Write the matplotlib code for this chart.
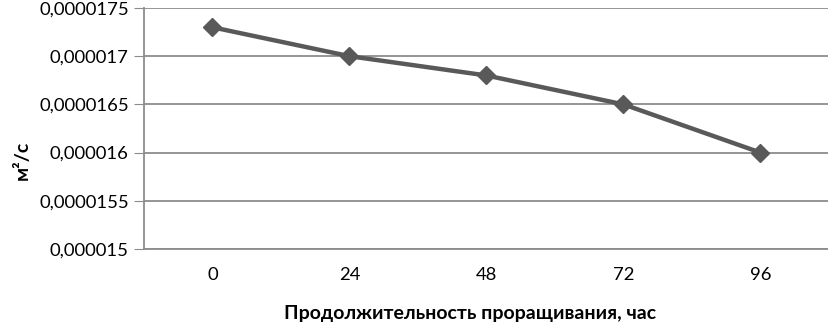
import matplotlib
matplotlib.use('Agg')
import matplotlib.pyplot as plt
from matplotlib.ticker import FuncFormatter

plt.rcParams['font.family'] = ['Lato', 'DejaVu Sans']

hours = ['0', '24', '48', '72', '96']
diff = [1.73e-5, 1.70e-5, 1.68e-5, 1.65e-5, 1.60e-5]
yticks = [0.000015, 0.0000155, 0.000016, 0.0000165, 0.000017, 0.0000175]

fig = plt.figure(figsize=(8.29, 3.23), dpi=100)
ax = fig.add_axes([144/829, 1-249/323, 685/829, 241/323])

x = list(range(len(hours)))
ax.plot(x, diff, color='#595959', lw=3.2, marker='D', ms=9, zorder=3)

ax.set_xlim(-0.5, len(hours)-0.5)
ax.set_ylim(yticks[0], yticks[-1])
ax.set_yticks(yticks)
ax.yaxis.set_major_formatter(FuncFormatter(lambda v, p: ('%.7f' % v).rstrip('0').replace('.', ',')))
ax.set_xticks(x)
ax.set_xticklabels(hours)
ax.grid(axis='y', color='#8c8c8c', lw=1.3)
ax.set_axisbelow(True)
for s in ['top', 'right']:
    ax.spines[s].set_visible(False)
ax.spines['left'].set_color('#8c8c8c')
ax.spines['bottom'].set_color('#8c8c8c')
ax.spines['left'].set_linewidth(1.3)
ax.spines['bottom'].set_linewidth(1.3)
ax.tick_params(axis='y', length=7, color='#8c8c8c', labelsize=13.3, pad=4)
ax.tick_params(axis='x', length=0, labelsize=13.3, pad=13)

ax.set_xlabel('Продолжительность проращивания, час', fontsize=14, fontweight='bold')
ax.set_ylabel('м²/с', fontsize=14, fontweight='bold')
ax.xaxis.set_label_coords((470-144)/685, -(305-249)/241)
ax.yaxis.set_label_coords(-(144-31)/685, (249-160)/241)

fig.savefig('out.png')
